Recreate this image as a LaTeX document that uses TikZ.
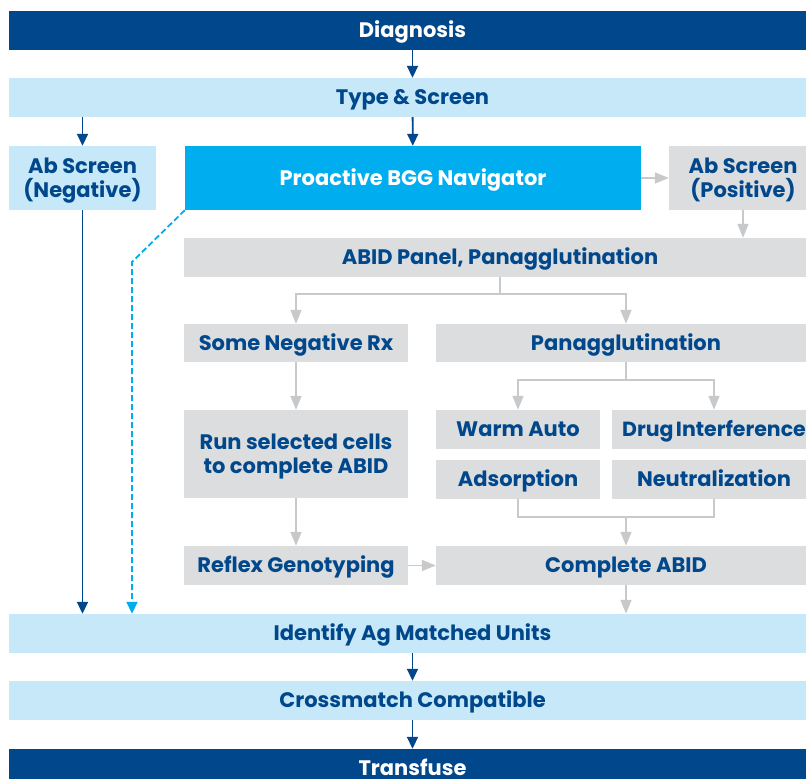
\documentclass[tikz,border=0pt]{standalone}
\usepackage{fontspec}
\setmainfont{Poppins}
\usepackage{tikz}
\usetikzlibrary{
  % enables the bigger arrow tips
  arrows.meta,%
  calc,%
  positioning
}
\definecolor{navyblue}{RGB}{0,72,139}
\definecolor{paleblue}{RGB}{199,232,248}
\definecolor{brightblue}{RGB}{0,174,239}
\definecolor{panelgrey}{RGB}{220,221,223}
\definecolor{arrowgrey}{RGB}{200,201,203}
\tikzset{>={Triangle[length=12pt,width=11pt]}}
\tikzset{
  % text height minus text depth = cap height, so the caps sit in the middle
  box/.style={rectangle, inner sep=0pt, align=center, text=navyblue,
    font=\fontsize{21}{24}\selectfont\bfseries, text height=17pt, text depth=2.3pt},
  % two lines: the baseline is the one of the last line
  twoline/.style={text height=41pt},
  darkbox/.style={box, fill=navyblue, text=white},
  lightbox/.style={box, fill=paleblue},
  cyanbox/.style={box, fill=brightblue, text=white},
  greybox/.style={box, fill=panelgrey},
  bluearrow/.style={->, navyblue, line width=1.8pt},
  greyarrow/.style={-{Triangle[length=14pt,width=11pt]}, arrowgrey, line width=1.5pt},
  greyline/.style={arrowgrey, line width=1.5pt},
  cyanarrow/.style={->, brightblue, line width=1.8pt, dash pattern=on 6pt off 3pt}
}

\begin{document}
\begin{tikzpicture}[x=1pt, y=-1pt]
  \clip (0,0) rectangle (806,779);
  \fill[white] (0,0) rectangle (806,779);
  % full width bars
  \node[darkbox, minimum width=807, minimum height=39] (diag) at (412.5,30.5) {Diagnosis};
  \node[lightbox, minimum width=807, minimum height=39] (type) at (412.5,97.5) {Type \& Screen};
  \node[lightbox, minimum width=807, minimum height=39] (identify) at (412.5,633.5) {Identify Ag Matched Units};
  \node[lightbox, minimum width=807, minimum height=39] (cross) at (412.5,700.5) {Crossmatch Compatible};
  \node[darkbox, minimum width=807, minimum height=39] (transfuse) at (412.5,768.5) {Transfuse};
  % screen row
  \node[lightbox, twoline, minimum width=147, minimum height=64] (abneg) at (82.5,178) {Ab Screen\\(Negative)};
  \node[cyanbox, minimum width=456, minimum height=64] (navig) at (413,178) {Proactive BGG Navigator};
  \node[greybox, twoline, minimum width=148, minimum height=64] (abpos) at (743,178) {Ab Screen\\(Positive)};
  % antibody workup
  \node[greybox, minimum width=632, minimum height=39] (abid) at (500,257.5) {ABID Panel, Panagglutination};
  \node[greybox, minimum width=224, minimum height=38] (someneg) at (296,343) {Some Negative Rx};
  \node[greybox, minimum width=380, minimum height=38] (panagg) at (626,343) {Panagglutination};
  \node[greybox, twoline, minimum width=224, minimum height=88] (runcells) at (296,454) {Run selected cells\\to complete ABID};
  \node[greybox, minimum width=164, minimum height=39] (warm) at (518,429.5) {Warm Auto};
  \node[greybox, minimum width=204, minimum height=39, font=\fontsize{20.5}{24}\selectfont\bfseries]
    (drug) at (714,429.5) {Drug\hspace{-1pt}\,Interference};
  \node[greybox, minimum width=164, minimum height=39] (adsorp) at (518,479.5) {Adsorption};
  \node[greybox, minimum width=204, minimum height=39] (neutral) at (714,479.5) {Neutralization};
  \node[greybox, minimum width=224, minimum height=39] (reflex) at (296,565.5) {Reflex Genotyping};
  \node[greybox, minimum width=380, minimum height=39] (complete) at (626,565.5) {Complete ABID};

  % main path
  \draw[bluearrow] (diag) -- (type);
  \draw[bluearrow] (type.south -| abneg) -- (abneg);
  \draw[bluearrow] (type) -- (navig);
  \draw[bluearrow] (abneg.south) -- (abneg.south |- identify.north);
  \draw[bluearrow] (identify) -- (cross);
  \draw[bluearrow] (cross) -- (transfuse);
  \coordinate (bend) at (132,262);
  \draw[cyanarrow] (navig.south west) -- (bend) -- (bend |- identify.north);

  % grey workup connectors
  \draw[greyarrow] (navig) -- (abpos);
  \draw[greyarrow] (abpos.south) -- (abpos.south |- abid.north);
  \draw[greyarrow] (abid.south) -- ++(0,17) -| (someneg);
  \draw[greyarrow] (abid.south) -- ++(0,17) -| (panagg);
  \draw[greyarrow] (panagg.south) -- ++(0,18) -| (warm);
  \draw[greyarrow] (panagg.south) -- ++(0,18) -| (drug);
  \draw[greyline] (adsorp.south) -- ++(0,18) coordinate (merge) -| (neutral.south);
  \draw[greyarrow] (merge -| complete) -- (complete);
  \draw[greyarrow] (someneg) -- (runcells);
  \draw[greyarrow] (runcells) -- (reflex);
  \draw[greyarrow] (reflex) -- (complete);
  \draw[greyarrow] (complete.south) -- (complete.south |- identify.north);
\end{tikzpicture}
\end{document}
